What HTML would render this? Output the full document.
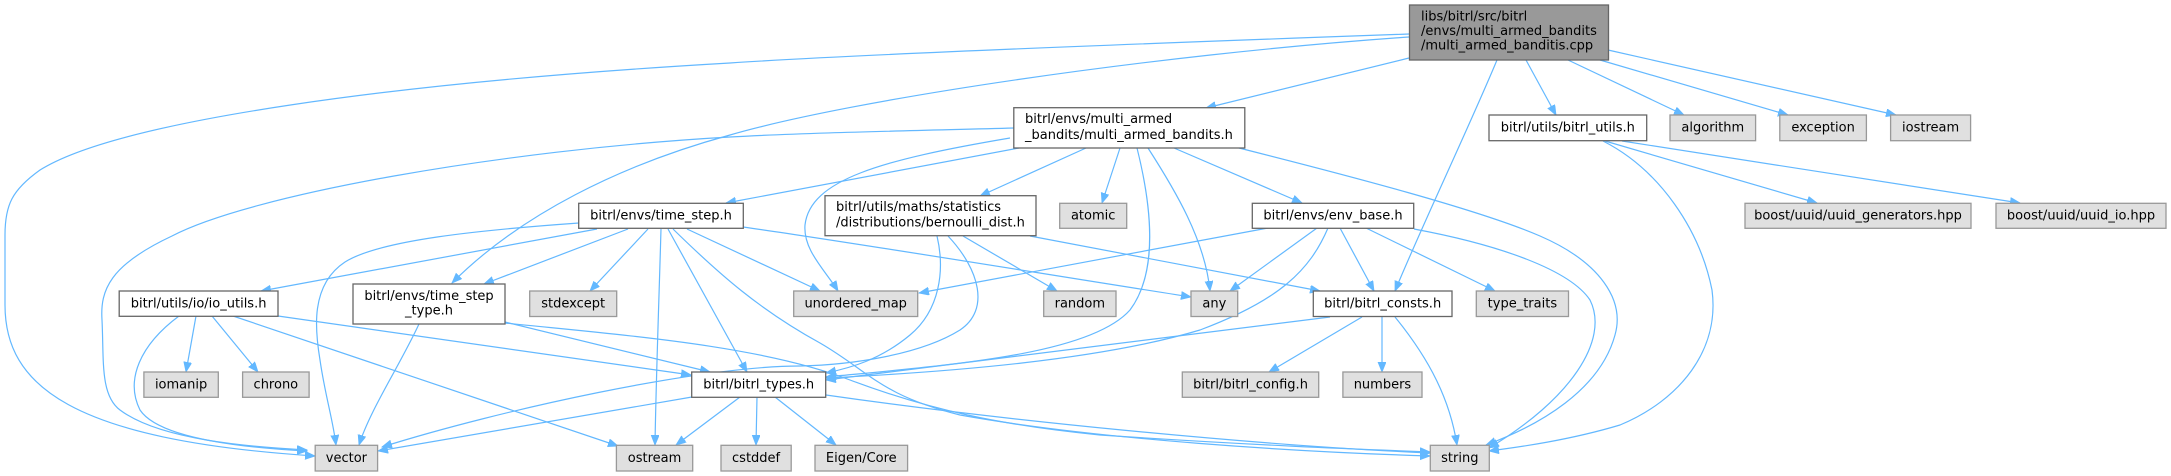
<!DOCTYPE html>
<html><head><meta charset="utf-8">
<style>
html,body{margin:0;padding:0;background:#fff;}
svg{display:block;}
text{font-family:"DejaVu Sans","Liberation Sans",sans-serif;font-size:13px;fill:#000;}
.e{fill:none;stroke:#63b8ff;stroke-width:1.2;marker-end:url(#ah);}
.w{fill:#fff;stroke:#666;stroke-width:1.3;}
.g{fill:#e0e0e0;stroke:#999;stroke-width:1.3;}
.r{fill:#999;stroke:#666;stroke-width:1.3;}
</style></head><body>
<svg width="2171" height="476" viewBox="0 0 2171 476" xmlns="http://www.w3.org/2000/svg">
<defs>
<marker id="ah" markerUnits="userSpaceOnUse" markerWidth="11" markerHeight="9" refX="10" refY="4" orient="auto">
<path d="M0,0 L10,4 L0,8 z" fill="#63b8ff" stroke="#63b8ff" stroke-width="0.8"/>
</marker>
</defs>
<rect width="2171" height="476" fill="#fff"/>
<g>
<path class="e" d="M1409,58 L1206,108"/>
<path class="e" d="M1526,60 L1556,115"/>
<path class="e" d="M1568,60 L1684,115"/>
<path class="e" d="M1600,60 L1788,115"/>
<path class="e" d="M1608,50 L1896,115"/>
<path class="e" d="M1497,60 C1470,125 1420,230 1395,291"/>
<path class="e" d="M1409,34 C1100,45 850,55 730,63 C400,82 120,120 40,170 C12,190 5,205 5,235 L5,305 C5,385 70,440 315,456"/>
<path class="e" d="M1409,37 C1150,55 850,100 730,135 C620,165 520,215 452,283"/>
<path class="e" d="M1014,128 C900,131 800,133 730,137 C500,150 250,195 172,236 C110,265 100,290 102,320 C104,360 100,395 120,410 C160,440 250,447 307,450"/>
<path class="e" d="M1019,148 L726,203"/>
<path class="e" d="M1086,148 L980,196"/>
<path class="e" d="M1120,148 L1102,203"/>
<path class="e" d="M1174,148 L1302,203"/>
<path class="e" d="M1239,148 C1350,176 1480,210 1540,236 C1600,262 1625,300 1615,335 C1600,390 1540,425 1486,445"/>
<path class="e" d="M1010,138 C880,160 810,180 805,225 C803,250 825,270 838,291"/>
<path class="e" d="M1148,148 C1175,190 1205,240 1210,291"/>
<path class="e" d="M1137,148 C1150,200 1160,270 1130,310 C1090,355 950,365 826,377"/>
<path class="e" d="M597,229 L261,291"/>
<path class="e" d="M628,229 L484,284"/>
<path class="e" d="M648,229 L590,291"/>
<path class="e" d="M661,229 C659,300 656,380 655,445"/>
<path class="e" d="M668,229 L747,372"/>
<path class="e" d="M687,229 L820,291"/>
<path class="e" d="M743,227 C850,242 1050,275 1191,297"/>
<path class="e" d="M579,223 C480,230 380,240 345,262 C310,285 315,330 320,360 C325,395 333,420 336,445"/>
<path class="e" d="M673,229 C720,275 760,310 820,343 C870,372 880,395 960,415 C1100,440 1300,452 1430,456"/>
<path class="e" d="M419,324 C400,365 370,410 359,445"/>
<path class="e" d="M505,322 L710,372"/>
<path class="e" d="M505,323 C620,335 760,345 850,380 C930,410 1000,425 1100,435 C1250,445 1350,449 1430,452"/>
<path class="e" d="M196,316 L186,372"/>
<path class="e" d="M212,316 L258,372"/>
<path class="e" d="M179,316 C140,345 125,380 140,410 C160,440 250,448 307,451"/>
<path class="e" d="M233,316 L618,446"/>
<path class="e" d="M278,316 L691,375"/>
<path class="e" d="M692,397 L378,451"/>
<path class="e" d="M740,397 L676,445"/>
<path class="e" d="M757,397 L756,445"/>
<path class="e" d="M775,397 L836,445"/>
<path class="e" d="M826,395 C1000,420 1250,445 1430,453"/>
<path class="e" d="M937,236 C945,270 940,310 910,335 C880,360 850,368 826,373"/>
<path class="e" d="M948,236 C980,270 990,310 960,330 C920,355 850,365 800,366 C700,366 500,410 382,447"/>
<path class="e" d="M963,236 L1057,291"/>
<path class="e" d="M1030,236 L1320,291"/>
<path class="e" d="M1268,228 L919,293"/>
<path class="e" d="M1317,228 L1230,291"/>
<path class="e" d="M1328,228 C1310,270 1280,300 1200,330 C1100,360 950,372 826,378"/>
<path class="e" d="M1340,228 L1374,291"/>
<path class="e" d="M1366,228 L1495,291"/>
<path class="e" d="M1414,229 C1500,245 1570,270 1590,300 C1610,340 1570,400 1489,448"/>
<path class="e" d="M1330,317 L826,380"/>
<path class="e" d="M1362,317 L1269,372"/>
<path class="e" d="M1382,317 L1382,372"/>
<path class="e" d="M1395,317 C1430,360 1450,400 1457,445"/>
<path class="e" d="M1605,141 L1817,203"/>
<path class="e" d="M1622,141 L2020,203"/>
<path class="e" d="M1603,141 C1660,170 1700,230 1712,290 C1720,350 1680,400 1620,425 C1570,440 1520,447 1489,451"/>
</g>
<g>
<rect class="r" x="1409.5" y="5" width="199" height="55"/>
<text x="1421" y="20.5">libs/bitrl/src/bitrl</text>
<text x="1421" y="35">/envs/multi_armed_bandits</text>
<text x="1421" y="49.5">/multi_armed_banditis.cpp</text>

<rect class="w" x="1013.8" y="107.7" width="231" height="40.3"/>
<text x="1025" y="123">bitrl/envs/multi_armed</text>
<text x="1025" y="139">_bandits/multi_armed_bandits.h</text>

<rect class="w" x="1489" y="115" width="157.7" height="25.7"/>
<text x="1567.85" y="131.5" text-anchor="middle">bitrl/utils/bitrl_utils.h</text>
<rect class="g" x="1670" y="115" width="85.6" height="25.7"/>
<text x="1712.8" y="131.5" text-anchor="middle">algorithm</text>
<rect class="g" x="1779.8" y="115" width="86.6" height="25.7"/>
<text x="1823.1" y="131.5" text-anchor="middle">exception</text>
<rect class="g" x="1890.6" y="115" width="80" height="25.7"/>
<text x="1930.6" y="131.5" text-anchor="middle">iostream</text>

<rect class="w" x="578.7" y="203.3" width="164.6" height="25"/>
<text x="661" y="219.5" text-anchor="middle">bitrl/envs/time_step.h</text>
<rect class="w" x="825" y="195.7" width="211" height="40"/>
<text x="836" y="211">bitrl/utils/maths/statistics</text>
<text x="836" y="226.5">/distributions/bernoulli_dist.h</text>
<rect class="g" x="1059.7" y="203.3" width="67" height="25"/>
<text x="1093.2" y="219.5" text-anchor="middle">atomic</text>
<rect class="w" x="1252.3" y="203.3" width="161.4" height="25"/>
<text x="1333" y="219.5" text-anchor="middle">bitrl/envs/env_base.h</text>
<rect class="g" x="1745" y="203.3" width="226" height="25"/>
<text x="1858" y="219.5" text-anchor="middle">boost/uuid/uuid_generators.hpp</text>
<rect class="g" x="1996" y="203.3" width="170" height="25"/>
<text x="2081" y="219.5" text-anchor="middle">boost/uuid/uuid_io.hpp</text>

<rect class="w" x="119.2" y="291" width="158.8" height="25.3"/>
<text x="198.6" y="307.3" text-anchor="middle">bitrl/utils/io/io_utils.h</text>
<rect class="w" x="353" y="284" width="152" height="40"/>
<text x="429" y="300" text-anchor="middle">bitrl/envs/time_step</text>
<text x="429" y="314.5" text-anchor="middle">_type.h</text>
<rect class="g" x="529.7" y="291" width="87" height="25.5"/>
<text x="573.2" y="307.3" text-anchor="middle">stdexcept</text>
<rect class="g" x="793.7" y="291" width="124" height="25.5"/>
<text x="855.7" y="307.3" text-anchor="middle">unordered_map</text>
<rect class="g" x="1043.7" y="291" width="72.3" height="25.5"/>
<text x="1079.85" y="307.3" text-anchor="middle">random</text>
<rect class="g" x="1191" y="291" width="46.7" height="25.5"/>
<text x="1214.35" y="307.3" text-anchor="middle">any</text>
<rect class="w" x="1313.3" y="291" width="138.7" height="25.5"/>
<text x="1382.65" y="307.3" text-anchor="middle">bitrl/bitrl_consts.h</text>
<rect class="g" x="1476.3" y="291" width="92.2" height="25.5"/>
<text x="1522.4" y="307.3" text-anchor="middle">type_traits</text>

<rect class="g" x="143.9" y="372" width="74.4" height="25.3"/>
<text x="181.1" y="388.3" text-anchor="middle">iomanip</text>
<rect class="g" x="242.6" y="372" width="66.5" height="25.3"/>
<text x="275.85" y="388.3" text-anchor="middle">chrono</text>
<rect class="w" x="691.7" y="372" width="134" height="25.3"/>
<text x="758.7" y="388.3" text-anchor="middle">bitrl/bitrl_types.h</text>
<rect class="g" x="1182.3" y="372" width="136.4" height="25.3"/>
<text x="1250.5" y="388.3" text-anchor="middle">bitrl/bitrl_config.h</text>
<rect class="g" x="1342.9" y="372" width="79.1" height="25.3"/>
<text x="1382.45" y="388.3" text-anchor="middle">numbers</text>

<rect class="g" x="315.2" y="445.3" width="62.4" height="25.7"/>
<text x="346.4" y="461.8" text-anchor="middle">vector</text>
<rect class="g" x="616.4" y="445.3" width="76.3" height="25.7"/>
<text x="654.55" y="461.8" text-anchor="middle">ostream</text>
<rect class="g" x="721" y="445.3" width="70.2" height="25.7"/>
<text x="756.1" y="461.8" text-anchor="middle">cstddef</text>
<rect class="g" x="815" y="445.3" width="92.6" height="25.7"/>
<text x="861.3" y="461.8" text-anchor="middle">Eigen/Core</text>
<rect class="g" x="1430.3" y="445.3" width="59" height="25.7"/>
<text x="1459.8" y="461.8" text-anchor="middle">string</text>
</g>
</svg>
</body></html>
